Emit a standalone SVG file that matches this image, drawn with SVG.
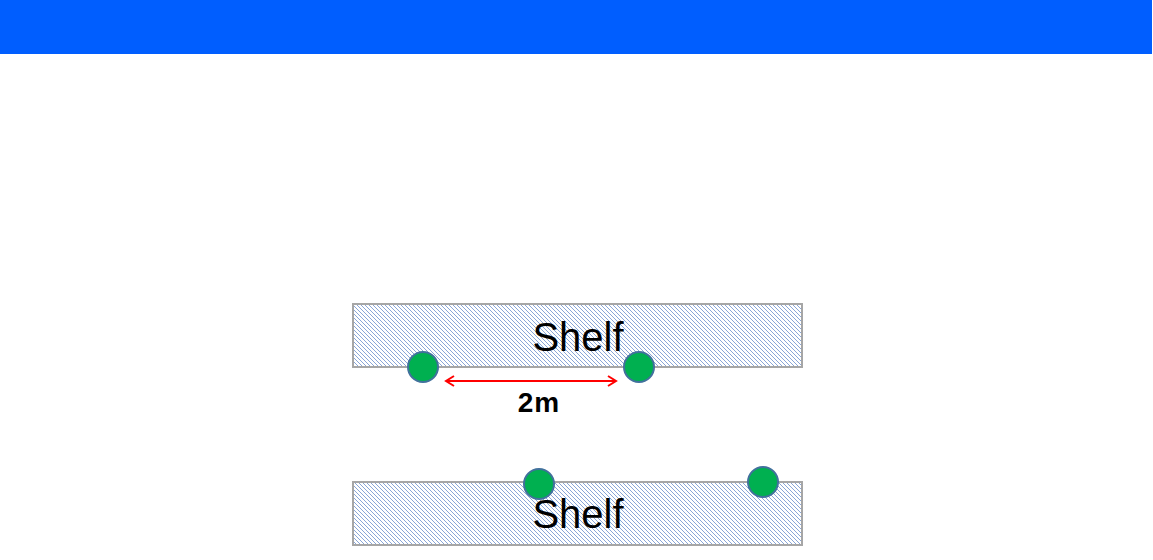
<svg xmlns="http://www.w3.org/2000/svg" width="1153" height="560" viewBox="0 0 1153 560">
<defs>
<pattern id="hatch" patternUnits="userSpaceOnUse" width="4" height="4">
<rect width="4" height="4" fill="#ffffff"/>
<path d="M-1,-1 L5,5 M-1,3 L1,5 M3,-1 L5,1" stroke="#8aa6d6" stroke-width="1"/>
</pattern>
<marker id="ah" markerWidth="12" markerHeight="12" refX="10" refY="6" orient="auto-start-reverse" markerUnits="userSpaceOnUse">
<path d="M2,1 L10,6 L2,11" fill="none" stroke="#ff0000" stroke-width="2"/>
</marker>
<style>
.shelf{fill:url(#hatch);stroke:#a6a6a6;stroke-width:2}
.lbl{font-family:"Liberation Sans",Arial,sans-serif;font-size:40px;fill:#000;text-anchor:middle}
.dot{fill:#00b050;stroke:#41719c;stroke-width:2}
</style>
</defs>
<rect x="0" y="0" width="1152" height="54" fill="#005eff"/>
<g id="shelf1"><rect class="shelf" x="353" y="304" width="449" height="63"/><text class="lbl" x="578" y="351">Shelf</text></g>
<g id="shelf2"><rect class="shelf" x="353" y="482" width="449" height="63"/><text class="lbl" x="578" y="528">Shelf</text></g>
<g id="dot1"><circle class="dot" cx="423" cy="367" r="15"/></g>
<g id="dot2"><circle class="dot" cx="639" cy="367" r="15"/></g>
<g id="dot3"><circle class="dot" cx="539" cy="484" r="15"/></g>
<g id="dot4"><circle class="dot" cx="763" cy="482" r="15"/></g>
<g id="connectors">
<line x1="446" y1="381" x2="616" y2="381" stroke="#ff0000" stroke-width="2" marker-start="url(#ah)" marker-end="url(#ah)"/>
</g>
<text x="539" y="412" font-family="'Liberation Sans',Arial,sans-serif" font-size="28" font-weight="bold" text-anchor="middle" fill="#000" letter-spacing="1">2m</text>
</svg>
